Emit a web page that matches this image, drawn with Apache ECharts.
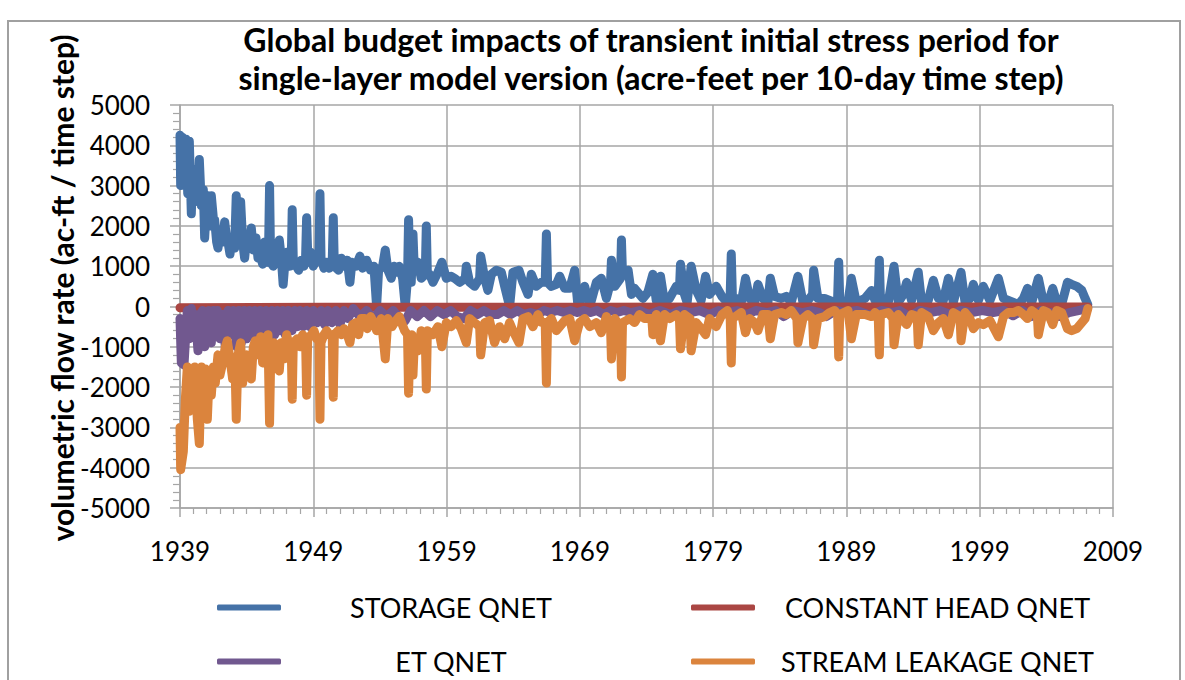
<!DOCTYPE html>
<html>
<head>
<meta charset="utf-8">
<script src="https://cdn.jsdelivr.net/npm/echarts/dist/echarts.min.js"></script>
<style>
html,body{margin:0;padding:0;background:#fff;}
#chart{width:1185px;height:680px;}
</style>
</head>
<body>
<div id="chart"></div>
<script>
// ---- data ([year, acre-feet per time step]) ----
const titleLines = ['Global budget impacts of transient initial stress period for', 'single-layer model version (acre-feet per 10-day time step)'];
const yAxisTitle = 'volumetric flow rate (ac-ft / time step)';
const seriesNames = ['STORAGE QNET', 'CONSTANT HEAD QNET', 'ET QNET', 'STREAM LEAKAGE QNET'];
const startYear = 1939;
const endYear = 2009;
const yTicks = [-5000, 5000, 1000];

const storageQnet = [
[1939.00,4250],[1939.05,3000],[1939.15,4200],[1939.30,3300],[1939.45,4150],[1939.58,2800],[1939.70,4100],[1939.85,2300],[1939.95,3400],[1940.05,2700],[1940.20,3000],[1940.35,2600],[1940.45,3650],[1940.60,2500],[1940.75,2900],[1940.85,1700],[1940.95,2300],[1941.10,2750],[1941.25,2000],[1941.35,2750],[1941.50,2200],[1941.60,2150],[1941.75,1600],[1941.85,1450],[1942.00,1800],[1942.20,1600],[1942.35,2100],[1942.50,1700],[1942.60,1600],[1942.75,1300],[1942.90,1700],[1943.10,1450],[1943.22,2750],[1943.35,1900],[1943.55,2600],[1943.70,1600],[1943.85,1200],[1944.00,1700],[1944.20,1500],[1944.35,1950],[1944.50,1400],[1944.70,1700],[1944.85,1200],[1945.00,1300],[1945.20,1050],[1945.35,1600],[1945.55,1100],[1945.64,1300],[1945.72,3000],[1945.80,1100],[1946.00,1000],[1946.25,1350],[1946.45,1650],[1946.60,1200],[1946.74,550],[1946.90,1200],[1947.05,1350],[1947.25,1000],[1947.35,1200],[1947.42,2400],[1947.50,1150],[1947.90,900],[1948.10,1150],[1948.30,1000],[1948.42,1200],[1948.50,2200],[1948.60,1100],[1948.80,1350],[1949.00,1000],[1949.20,1150],[1949.42,1200],[1949.50,2800],[1949.58,1200],[1949.80,950],[1950.00,1100],[1950.20,950],[1950.42,1100],[1950.50,2200],[1950.58,1000],[1950.90,900],[1951.10,1200],[1951.30,1000],[1951.55,1150],[1951.75,600],[1951.90,1100],[1952.20,1000],[1952.50,1250],[1952.70,950],[1953.00,1150],[1953.30,900],[1953.55,1000],[1953.75,0],[1953.90,900],[1954.20,1000],[1954.40,1400],[1954.60,900],[1954.85,700],[1955.05,1000],[1955.30,850],[1955.45,1000],[1955.70,700],[1955.90,0],
[1956.07,700],[1956.15,2150],[1956.25,800],[1956.35,600],[1956.48,1800],[1956.58,900],[1956.73,900],[1956.85,1100],[1957.10,700],[1957.40,800],[1957.48,2000],[1957.56,800],[1957.73,800],[1957.98,600],[1958.35,850],[1958.65,1100],[1958.98,700],[1959.35,750],[1959.60,700],[1959.98,600],[1960.40,700],[1960.48,1000],[1960.73,600],[1961.10,500],[1961.48,700],[1961.56,1250],[1961.86,700],[1962.10,400],[1962.36,800],[1962.73,900],[1963.11,850],[1963.36,500],[1963.73,0],[1963.98,850],[1964.43,900],[1964.73,600],[1965.11,300],[1965.36,800],[1965.73,500],[1966.11,600],[1966.40,600],[1966.49,1800],[1966.58,600],[1966.86,500],[1967.24,550],[1967.49,750],[1967.86,450],[1968.24,450],[1968.61,900],[1968.86,0],[1969.36,500],[1969.74,0],[1970.24,600],[1970.61,700],[1970.99,200],[1971.30,600],[1971.37,1150],[1971.62,500],[1972.05,700],[1972.12,1650],[1972.20,800],[1972.62,900],[1972.87,300],[1973.10,450],
[1973.35,350],[1973.73,200],[1974.10,350],[1974.48,800],[1974.73,150],[1975.05,750],[1975.35,100],[1975.73,200],[1976.23,500],[1976.47,400],[1976.55,1050],[1976.85,300],[1977.05,100],[1977.35,1000],[1977.73,400],[1978.10,150],[1978.43,750],[1978.73,300],[1979.23,500],[1979.66,250],[1980.06,100],[1980.28,300],[1980.36,1300],[1980.45,200],[1980.73,200],[1981.11,100],[1981.43,700],[1981.73,200],[1982.11,100],[1982.36,550],[1982.73,200],[1983.11,100],[1983.29,700],[1983.61,250],[1984.11,200],[1984.49,250],[1984.86,100],[1985.36,750],[1985.74,100],[1986.11,150],[1986.46,300],[1986.54,900],[1986.86,200],[1987.36,200],[1987.74,150],[1988.11,100],[1988.34,200],[1988.42,1100],[1988.50,150],[1989.12,100],[1989.37,700],[1989.74,100],
[1990.39,200],[1990.89,400],[1991.14,150],[1991.39,300],[1991.47,1150],[1991.55,200],[1991.77,200],[1992.14,100],[1992.57,1000],[1992.89,100],[1993.27,300],[1993.52,600],[1993.89,150],[1994.39,850],[1994.64,100],[1995.14,150],[1995.52,650],[1995.90,200],[1996.27,150],[1996.65,700],[1997.02,100],[1997.60,850],[1997.90,100],[1998.27,200],[1998.52,550],[1998.90,150],[1999.27,500],[1999.77,150],[2000.40,700],[2000.78,200],[2001.15,150],[2001.53,100],[2001.90,50],[2002.28,200],[2002.58,450],[2002.90,100],[2003.40,700],[2003.78,100],[2004.10,50],[2004.48,450],[2004.78,100],[2005.15,50],[2005.58,600],[2005.90,550],[2006.28,500],[2006.66,400],[2006.91,200],[2007.11,50]
];

const constantHeadQnet = [[1939.0,-30],[1950.0,-20],[1960.0,-20],[1970.0,-20],[1980.0,-15],[1990.0,-15],[2000.0,-10],[2007.11,-10]];

const etQnet = [
[1939.00,-300],[1939.10,-1400],[1939.30,-1450],[1939.45,-600],[1939.55,-100],[1939.70,-800],[1939.85,-50],[1940.00,-600],[1940.15,-200],[1940.35,-1100],[1940.50,-200],[1940.70,-100],[1940.85,-1000],[1941.00,-300],[1941.15,-100],[1941.35,-900],[1941.50,-100],[1941.65,-700],[1941.80,-100],[1942.00,-800],[1942.20,-200],[1942.40,-1000],[1942.60,-100],[1942.80,-700],[1943.00,-100],[1943.25,-1000],[1943.40,-100],[1943.60,-900],[1943.80,-100],[1944.00,-800],[1944.20,-100],[1944.40,-700],[1944.60,-100],[1944.80,-800],[1945.00,-100],[1945.25,-600],[1945.45,-100],[1945.70,-800],[1945.90,-100],[1946.10,-700],[1946.30,-100],[1946.50,-600],[1946.70,-100],[1946.90,-700],[1947.10,-100],[1947.40,-600],[1947.60,-100],[1947.80,-500],[1948.00,-100],[1948.25,-500],[1948.50,-100],[1948.75,-500],[1949.00,-100],[1949.30,-400],[1949.60,-100],[1949.85,-450],[1950.10,-100],[1950.40,-400],[1950.70,-100],[1951.00,-450],[1951.30,-100],[1951.60,-300],[1952.00,-50],
[1952.5,-250],[1953.0,-100],[1953.5,-300],[1954.0,-100],[1954.5,-250],[1955.0,-100],[1955.5,-300],[1955.9,-350],[1956.3,-100],[1956.8,-250],[1957.3,-100],[1957.8,-250],[1958.3,-100],[1958.8,-200],[1959.3,-100],[1959.8,-250],[1960.3,-300],[1960.8,-100],[1961.3,-200],[1961.8,-100],[1962.3,-200],[1962.8,-200],[1963.3,-100],[1963.8,-200],[1964.3,-100],[1964.8,-200],[1965.3,-150],[1965.8,-200],[1966.3,-100],[1966.8,-150],[1967.3,-100],[1967.8,-150],[1968.3,-100],[1968.8,-150],[1969.3,-100],[1969.8,-150],[1970.3,-100],[1970.8,-200],[1971.3,-100],[1971.8,-150],[1972.3,-100],[1972.8,-150],[1973.5,-100],[1974.2,-200],[1975.0,-100],[1975.8,-200],[1976.5,-100],[1977.3,-150],[1978.0,-100],[1978.7,-200],[1979.4,-100],[1980.1,-150],[1980.8,-100],[1981.5,-200],[1982.2,-100],[1983.0,-150],[1983.7,-100],[1984.3,-250],[1985.0,-100],[1985.7,-150],[1986.4,-100],[1987.0,-150],[1987.5,-250],[1988.2,-100],[1989.0,-150],[1989.8,-100],[1990.8,-220],[1991.6,-100],[1992.4,-150],[1993.0,-100],[1993.7,-250],[1994.5,-100],[1995.3,-150],[1996.0,-100],[1996.8,-200],[1997.6,-100],[1998.4,-150],[1999.2,-100],[2000.0,-150],[2000.8,-100],[2001.5,-230],[2002.2,-100],[2002.9,-250],[2003.6,-100],[2004.3,-150],[2005.0,-250],[2005.7,-150],[2006.4,-100],[2007.1,-50]
];

const streamLeakageQnet = [
[1939.00,-3000],[1939.05,-4050],[1939.25,-3600],[1939.40,-2300],[1939.55,-1500],[1939.70,-2600],[1939.85,-2200],[1940.00,-2000],[1940.10,-1500],[1940.30,-2800],[1940.45,-3400],[1940.60,-1500],[1940.75,-2300],[1940.90,-1550],[1941.05,-2800],[1941.20,-1600],[1941.35,-2200],[1941.50,-1500],[1941.65,-1900],[1941.85,-1200],[1942.00,-1700],[1942.20,-1400],[1942.40,-1000],[1942.55,-850],[1942.75,-1300],[1942.95,-1800],[1943.12,-1300],[1943.22,-2800],[1943.35,-1200],[1943.55,-900],[1943.70,-1900],[1943.85,-1400],[1944.00,-1200],[1944.20,-1700],[1944.35,-1800],[1944.50,-1000],[1944.65,-850],[1944.85,-1200],[1945.05,-750],[1945.20,-1400],[1945.40,-1100],[1945.60,-700],[1945.72,-2900],[1945.82,-1000],[1946.05,-900],[1946.25,-1500],[1946.45,-1600],[1946.60,-900],[1946.80,-1300],[1947.00,-700],[1947.20,-1000],[1947.34,-900],[1947.42,-2300],[1947.50,-900],[1947.80,-800],[1948.00,-1000],[1948.20,-700],[1948.42,-800],[1948.50,-2200],[1948.58,-800],[1948.85,-700],[1949.05,-600],[1949.25,-800],[1949.42,-800],[1949.50,-2800],[1949.58,-900],[1949.80,-700],[1950.00,-600],[1950.20,-700],[1950.42,-700],[1950.50,-2250],[1950.58,-700],[1950.85,-600],[1951.10,-700],[1951.30,-550],[1951.55,-700],[1951.75,-900],[1951.95,-450],[1952.20,-400],[1952.40,-700],[1952.60,-300],[1952.85,-300],[1953.05,-550],[1953.30,-250],[1953.55,-400],[1953.75,-600],[1954.10,-300],[1954.40,-1300],[1954.60,-300],[1954.90,-500],[1955.20,-350],[1955.45,-250],[1955.85,-600],
[1956.07,-700],[1956.15,-2150],[1956.25,-800],[1956.40,-700],[1956.48,-1700],[1956.58,-900],[1956.85,-1100],[1957.10,-600],[1957.40,-700],[1957.48,-2050],[1957.56,-600],[1957.98,-700],[1958.35,-500],[1958.65,-1000],[1958.98,-400],[1959.35,-500],[1959.73,-350],[1960.10,-550],[1960.48,-900],[1960.73,-300],[1961.10,-400],[1961.48,-500],[1961.56,-1200],[1961.86,-400],[1962.23,-350],[1962.60,-900],[1962.98,-500],[1963.36,-800],[1963.73,-400],[1963.98,-600],[1964.43,-900],[1964.73,-300],[1965.11,-250],[1965.48,-500],[1965.86,-200],[1966.11,-400],[1966.40,-400],[1966.49,-1900],[1966.58,-400],[1966.86,-300],[1967.24,-600],[1967.49,-500],[1967.86,-350],[1968.24,-300],[1968.61,-850],[1968.98,-400],[1969.36,-300],[1969.74,-500],[1970.24,-400],[1970.61,-650],[1970.99,-250],[1971.30,-500],[1971.37,-1300],[1971.62,-300],[1972.05,-500],[1972.12,-1750],[1972.20,-400],[1972.74,-300],[1973.10,-400],
[1973.47,-200],[1973.85,-300],[1974.40,-300],[1974.48,-700],[1974.73,-200],[1975.05,-850],[1975.35,-200],[1975.73,-300],[1976.23,-200],[1976.47,-300],[1976.55,-1050],[1976.85,-200],[1977.27,-300],[1977.35,-1100],[1977.73,-400],[1978.10,-550],[1978.43,-700],[1978.73,-300],[1979.23,-500],[1979.66,-200],[1980.06,-100],[1980.28,-300],[1980.36,-1400],[1980.45,-300],[1981.11,-150],[1981.43,-650],[1981.73,-300],[1982.11,-400],[1982.36,-600],[1982.73,-200],[1983.11,-200],[1983.29,-800],[1983.61,-200],[1984.11,-150],[1984.49,-200],[1984.86,-100],[1985.28,-300],[1985.36,-900],[1985.74,-300],[1986.11,-200],[1986.46,-300],[1986.54,-950],[1986.86,-300],[1987.36,-250],[1987.74,-150],[1988.11,-100],[1988.34,-200],[1988.42,-1250],[1988.50,-200],[1989.12,-100],[1989.37,-800],[1989.74,-200],
[1990.39,-200],[1990.89,-250],[1991.14,-150],[1991.39,-300],[1991.47,-1200],[1991.55,-200],[1992.14,-150],[1992.49,-300],[1992.57,-950],[1992.89,-200],[1993.27,-350],[1993.52,-450],[1993.89,-200],[1994.31,-250],[1994.39,-950],[1994.64,-150],[1995.14,-250],[1995.52,-600],[1995.90,-400],[1996.27,-300],[1996.65,-700],[1997.02,-150],[1997.52,-250],[1997.60,-850],[1997.90,-150],[1998.27,-300],[1998.52,-550],[1998.90,-400],[1999.27,-450],[1999.77,-350],[2000.40,-750],[2000.78,-250],[2001.15,-150],[2001.53,-150],[2001.90,-100],[2002.28,-200],[2002.58,-300],[2002.90,-100],[2003.32,-200],[2003.40,-700],[2003.78,-100],[2004.10,-150],[2004.48,-450],[2004.78,-100],[2005.15,-150],[2005.58,-550],[2005.90,-600],[2006.28,-550],[2006.66,-400],[2006.91,-300],[2007.11,-50]
];

const seriesColors = ['#4572a7', '#aa4643', '#71588f', '#db843d'];

// ---- chart ----
const FONT = 'Lato, "Open Sans", sans-serif';
const toOffset = arr => arr.map(p => [p[0] - startYear, p[1]]);
const dataSets = [storageQnet, constantHeadQnet, etQnet, streamLeakageQnet];
const gridColor = '#a6a6a6';

const chart = echarts.init(document.getElementById('chart'), null, {renderer: 'svg'});

const legendPos = [
  {left: 212, top: 589},
  {left: 686, top: 589},
  {left: 212, top: 643},
  {left: 686, top: 643}
];
const legendTextWidth = [330, 355, 330, 355];

const option = {
  backgroundColor: '#fff',
  animation: false,
  title: {
    text: titleLines.join('\n'),
    left: 646,
    top: 15,
    textAlign: 'center',
    textStyle: {fontFamily: FONT, fontWeight: 'bold', fontSize: 32, lineHeight: 38, color: '#000'}
  },
  grid: {left: 180, right: 72, top: 105, bottom: 172, containLabel: false},
  legend: seriesNames.map((n, i) => ({
    data: [n],
    left: legendPos[i].left,
    top: legendPos[i].top,
    icon: 'roundRect',
    itemWidth: 64,
    itemHeight: 6,
    selectedMode: false,
    formatter: name => '{t|' + name + '}',
    textStyle: {
      rich: {t: {width: legendTextWidth[i], align: 'center', fontFamily: FONT, fontSize: 27, color: '#000'}}
    }
  })),
  xAxis: {
    type: 'value',
    min: 0,
    max: endYear - startYear,
    interval: 10,
    axisLine: {onZero: false, lineStyle: {color: gridColor, width: 1.5}},
    axisTick: {length: 9, lineStyle: {color: gridColor, width: 1.5}},
    minorTick: {show: true, splitNumber: 10, length: 6, lineStyle: {color: gridColor, width: 1.2}},
    splitLine: {show: true, lineStyle: {color: gridColor, width: 1.5}},
    axisLabel: {margin: 30, fontFamily: FONT, fontSize: 26, color: '#000', formatter: v => String(startYear + v)}
  },
  yAxis: {
    type: 'value',
    min: yTicks[0],
    max: yTicks[1],
    interval: yTicks[2],
    axisLine: {show: true, onZero: false, lineStyle: {color: gridColor, width: 1.5}},
    axisTick: {show: true, length: 10, lineStyle: {color: gridColor, width: 1.5}},
    minorTick: {show: true, splitNumber: 5, length: 7, lineStyle: {color: gridColor, width: 1.2}},
    splitLine: {show: true, lineStyle: {color: gridColor, width: 1.5}},
    axisLabel: {margin: 30, fontFamily: FONT, fontSize: 26, color: '#000', formatter: v => String(v)}
  },
  graphic: [
    {type: 'rect', silent: true, z: -10, shape: {x: 8, y: 21, width: 1172, height: 700},
     style: {fill: 'none', stroke: '#a0a0a0', lineWidth: 2}},
    {type: 'text', silent: true, x: 62, y: 288, rotation: Math.PI / 2,
     style: {text: yAxisTitle, fontFamily: FONT, fontWeight: 'bold', fontSize: 30, fill: '#000',
             align: 'center', verticalAlign: 'middle'}}
  ],
  series: seriesNames.map((n, i) => ({
    name: n,
    type: 'line',
    data: toOffset(dataSets[i]),
    showSymbol: false,
    symbol: 'none',
    color: seriesColors[i],
    lineStyle: {width: 9, color: seriesColors[i], cap: 'round', join: 'round'},
    z: 2 + i
  }))
};
chart.setOption(option);
</script>
</body>
</html>
